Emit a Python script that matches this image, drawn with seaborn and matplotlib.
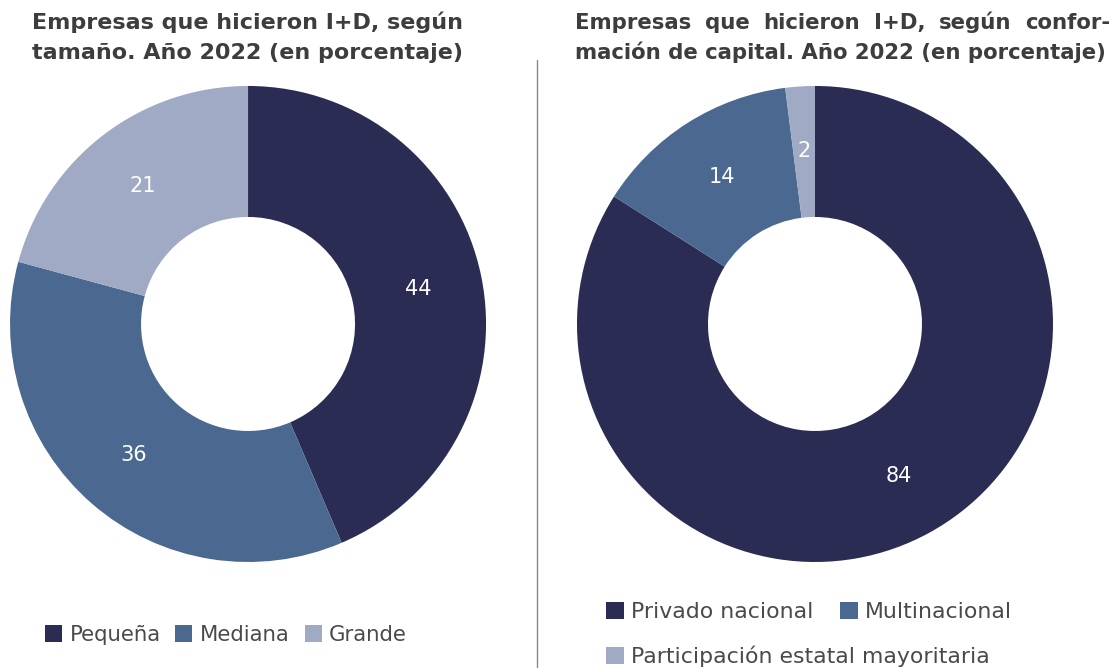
import matplotlib
matplotlib.use("Agg")
import matplotlib.pyplot as plt
from matplotlib.lines import Line2D
from matplotlib.patches import Patch
import seaborn as sns

# datos
tamano_labels = ["Pequeña", "Mediana", "Grande"]
tamano_valores = [44, 36, 21]

capital_labels = ["Privado nacional", "Multinacional", "Participación estatal mayoritaria"]
capital_valores = [84, 14, 2]

titulo_izq = ["Empresas que hicieron I+D, según", "tamaño. Año 2022 (en porcentaje)"]
titulo_der = ["Empresas que hicieron I+D, según confor-", "mación de capital. Año 2022 (en porcentaje)"]

sns.set_theme(style="white")
plt.rcParams['font.family'] = ['DejaVu Sans']
colores = sns.color_palette(["#2B2C53", "#4A6890", "#A1AAC4"])
gris_titulo = "#3d3d3d"
gris_texto = "#4a4a4a"

W, H = 1113, 668
fig = plt.figure(figsize=(W / 100, H / 100), dpi=100)


def donut(ax, valores):
    total = sum(valores)
    ax.pie(valores, colors=colores, startangle=90, counterclock=False,
           wedgeprops=dict(width=131 / 238, linewidth=0),
           autopct=lambda p: f"{round(p * total / 100)}", pctdistance=0.73,
           textprops=dict(color="white", fontsize=15))
    ax.set_xlim(-1, 1)
    ax.set_ylim(-1, 1)
    ax.set_aspect("equal")


# dona izquierda
ax1 = fig.add_axes([0.009, 0.1587, 0.4277, 0.7126])
donut(ax1, tamano_valores)

# dona derecha
ax2 = fig.add_axes([0.5184, 0.1587, 0.4277, 0.7126])
donut(ax2, capital_valores)

# titulos
tkw = dict(fontweight="bold", color=gris_titulo, va="baseline")
for i, linea in enumerate(titulo_izq):
    fig.text(248 / W, 1 - (29 + 30 * i) / H, linea, ha="center", fontsize=16, **tkw)

# titulo derecho justificado: primera linea repartida entre x0 y x1
x0, x1 = 575, 1110
renderer = fig.canvas.get_renderer()
palabras = titulo_der[0].split(" ")
textos = [fig.text(0, 1 - 29 / H, p, ha="left", fontsize=15.3, **tkw) for p in palabras]
anchos = [t.get_window_extent(renderer).width for t in textos]
hueco = (x1 - x0 - sum(anchos)) / (len(palabras) - 1)
x = x0
for t, a in zip(textos, anchos):
    t.set_x(x / W)
    x += a + hueco
fig.text(x0 / W, 1 - 59 / H, titulo_der[1], ha="left", fontsize=15.3, **tkw)

# linea separadora
fig.add_artist(Line2D([537 / W, 537 / W], [0, 1 - 60 / H], color="#8a8a8a", lw=1))

# leyendas
def handles(labels):
    return [Patch(facecolor=c, edgecolor="none", label=l) for c, l in zip(colores, labels)]


kw = dict(frameon=False, handlelength=0.8, handleheight=0.8,
          handletextpad=0.35, labelcolor=gris_texto, borderaxespad=0, borderpad=0)
h1 = handles(tamano_labels)
fig.legend(handles=h1, ncol=3, loc="center left", bbox_to_anchor=(45 / W, 1 - 635 / H),
           columnspacing=0.7, fontsize=15.3, **kw)

h2 = handles(capital_labels)
fig.legend(handles=h2[:2], ncol=2, loc="center left", bbox_to_anchor=(606 / W, 1 - 612 / H),
           columnspacing=1.2, fontsize=15.8, **kw)
fig.legend(handles=h2[2:], ncol=1, loc="center left", bbox_to_anchor=(606 / W, 1 - 656 / H),
           fontsize=15.8, **kw)

fig.savefig("out.png", dpi=100, facecolor="white")
